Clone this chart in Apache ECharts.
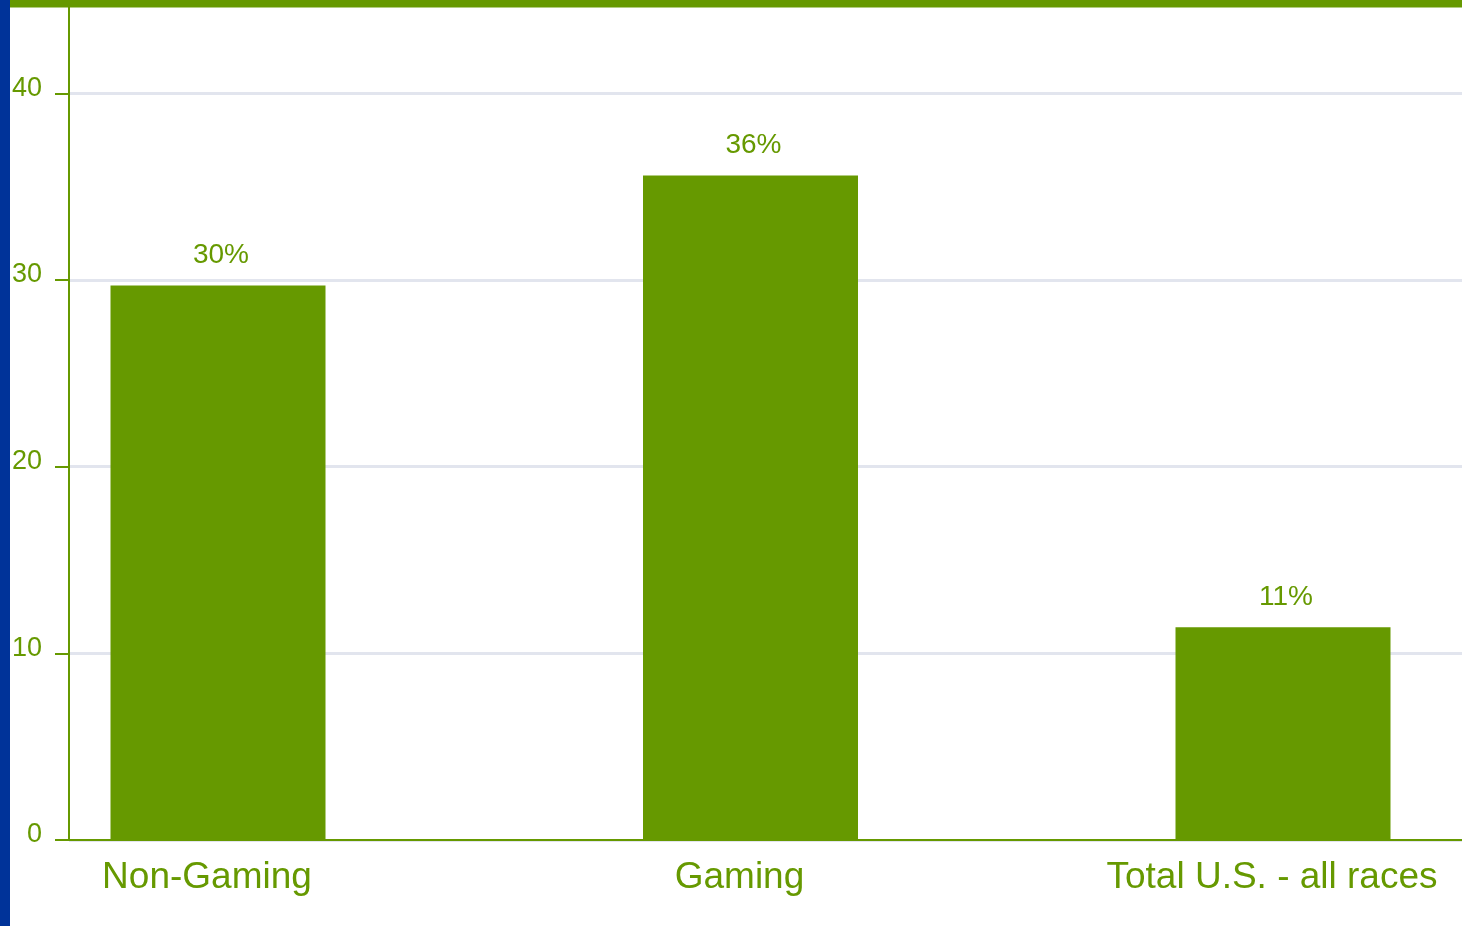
<!DOCTYPE html>
<html>
<head>
<meta charset="utf-8">
<script src="https://cdn.jsdelivr.net/npm/echarts@6/dist/echarts.min.js"></script>
<style>
html,body{margin:0;padding:0;background:#fff;}
#chart{width:1462px;height:926px;}
</style>
</head>
<body>
<div id="chart"></div>
<script>
var categories = ['Non-Gaming', 'Gaming', 'Total U.S. - all races'];
var values = [29.7, 35.6, 11.4];
var yMin = 0, yMax = 45, yInterval = 10;

var GREEN = '#669900';
var FONT = 'Liberation Sans, Arial, sans-serif';

var chart = echarts.init(document.getElementById('chart'));
chart.setOption({
  backgroundColor: '#ffffff',
  animation: false,
  grid: [
    { left: 69, right: 0, top: -1.4, bottom: 86 },
    { left: 218, right: 179, top: -1.4, bottom: 86 }
  ],
  xAxis: [
    {
      gridIndex: 0, type: 'category', data: [''],
      axisLine: { show: true, lineStyle: { color: GREEN, width: 2 } },
      axisTick: { show: false }, axisLabel: { show: false }, splitLine: { show: false }
    },
    {
      gridIndex: 1, type: 'category', data: categories, boundaryGap: false,
      axisLine: { show: false }, axisTick: { show: false }, splitLine: { show: false },
      axisLabel: {
        interval: 0, color: GREEN, fontFamily: FONT, fontSize: 37, margin: 19,
        padding: [0, 22, 0, 0]
      }
    }
  ],
  yAxis: [
    {
      gridIndex: 0, type: 'value', min: yMin, max: yMax, interval: yInterval,
      axisLine: { show: true, lineStyle: { color: GREEN, width: 2 } },
      axisTick: { show: true, length: 14, lineStyle: { color: GREEN, width: 2 } },
      axisLabel: {
        color: GREEN, fontFamily: FONT, fontSize: 27, margin: 27,
        showMaxLabel: false, verticalAlign: 'bottom', lineHeight: 10,
        formatter: function (v) { return v >= yMax ? '' : String(v); }
      },
      splitLine: { show: true, lineStyle: { color: '#e2e5ee', width: 3 } }
    },
    {
      gridIndex: 1, type: 'value', min: yMin, max: yMax, interval: yInterval, show: false,
      splitLine: { show: false }
    }
  ],
  series: [
    {
      type: 'bar', xAxisIndex: 1, yAxisIndex: 1, data: values, barWidth: 215, clip: false,
      itemStyle: { color: GREEN },
      label: {
        show: true, position: 'top', distance: 16, offset: [3, 0],
        color: GREEN, fontFamily: FONT, fontSize: 28,
        formatter: function (p) { return Math.round(p.value) + '%'; }
      },
      z: 3
    }
  ],
  graphic: [
    { type: 'rect', left: 0, top: 0, shape: { width: 1462, height: 7.5 }, style: { fill: GREEN }, z: 100 },
    { type: 'rect', left: 0, top: 0, shape: { width: 10, height: 926 }, style: { fill: '#003399' }, z: 101 }
  ]
});
</script>
</body>
</html>
